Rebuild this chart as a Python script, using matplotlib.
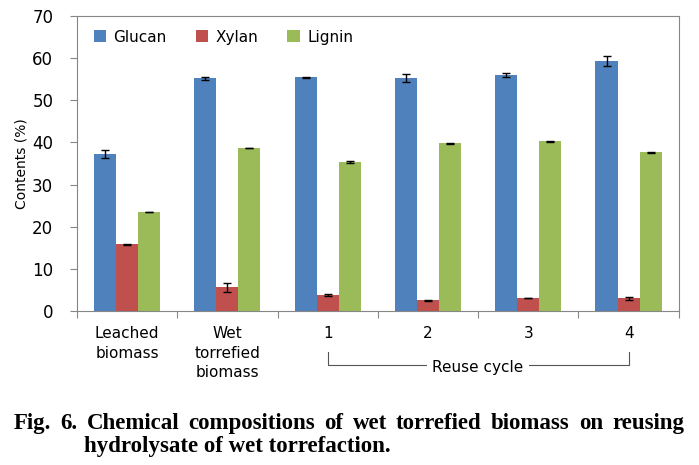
import numpy as np
import matplotlib.pyplot as plt
from matplotlib.transforms import blended_transform_factory

categories = ["Leached\nbiomass", "Wet\ntorrefied\nbiomass", "1", "2", "3", "4"]
series = ["Glucan", "Xylan", "Lignin"]
glucan = [37.3, 55.2, 55.4, 55.2, 56.0, 59.3]
xylan = [15.8, 5.6, 3.8, 2.6, 3.1, 3.0]
lignin = [23.5, 38.7, 35.4, 39.8, 40.3, 37.6]
glucan_err = [1.0, 0.3, 0.1, 0.9, 0.5, 1.1]
xylan_err = [0.1, 1.0, 0.3, 0.1, 0.1, 0.4]
lignin_err = [0.05, 0.05, 0.2, 0.1, 0.1, 0.1]
colors = ["#4F81BD", "#C0504D", "#9BBB59"]

caption_1 = "Fig. 6. Chemical compositions of wet torrefied biomass on reusing"
caption_2 = "hydrolysate of wet torrefaction."

values = [glucan, xylan, lignin]
errors = [glucan_err, xylan_err, lignin_err]

fig = plt.figure(figsize=(6.99, 4.65), dpi=100)
ax = fig.add_axes([0.110, 0.331, 0.861, 0.635])

x = np.arange(len(categories))
w = 0.22
for i, (name, vals, errs, c) in enumerate(zip(series, values, errors, colors)):
    ax.bar(x + (i - 1) * w, vals, w, color=c, label=name,
           yerr=errs, capsize=3, error_kw=dict(elinewidth=1, capthick=1, ecolor="black"))

ax.set_xlim(-0.5, len(categories) - 0.5)
ax.set_ylim(0, 70)
ax.set_yticks(range(0, 71, 10))
ax.set_xticks(np.arange(-0.5, len(categories), 1))
ax.set_xticklabels([])
ax.tick_params(axis="x", direction="out", length=5, color="#868686")
ax.tick_params(axis="y", direction="out", length=5, color="#868686", labelsize=12, pad=12)
for s in ax.spines.values():
    s.set_color("#868686")

for xi, lab in zip(x, categories):
    ax.text(xi, -0.05, lab, transform=blended_transform_factory(ax.transData, ax.transAxes),
            ha="center", va="top", fontsize=11, linespacing=1.4)

ax.set_ylabel("Contents (%)", fontsize=10)
ax.yaxis.set_label_coords(-0.08, 0.5)

# reuse cycle bracket
tr = blended_transform_factory(ax.transData, fig.transFigure)
y_top, y_bot = 1 - 352 / 465, 1 - 365 / 465
ax.plot([2, 2, 5, 5], [y_top, y_bot, y_bot, y_top], color="#555555", lw=0.8,
        transform=tr, clip_on=False)
ax.text(3.5, 1 - 367 / 465, "Reuse cycle", transform=tr, ha="center", va="center",
        fontsize=11, bbox=dict(facecolor="white", edgecolor="none", pad=4))

ax.legend(loc="upper left", ncol=3, frameon=False, fontsize=11, handlelength=0.8,
          handleheight=0.8, columnspacing=1.9, handletextpad=0.5,
          bbox_to_anchor=(0.005, 1.0))

# caption, first line justified between x=14 and x=684 px
cap_kw = dict(family="Liberation Serif", weight="bold", fontsize=16.5, va="baseline")
words = caption_1.split(" ")
y1 = 1 - 429 / 465
arts = [fig.text(0, y1, wd, **cap_kw) for wd in words]
fig.canvas.draw()
r = fig.canvas.get_renderer()
widths = [a.get_window_extent(r).width for a in arts]
left, right = 14, 684
gap = (right - left - sum(widths)) / (len(words) - 1)
pos = left
for a, wd_w in zip(arts, widths):
    a.set_x(pos / 699)
    pos += wd_w + gap
fig.text(84 / 699, 1 - 452 / 465, caption_2, **cap_kw)

fig.savefig("out.png", dpi=100)
